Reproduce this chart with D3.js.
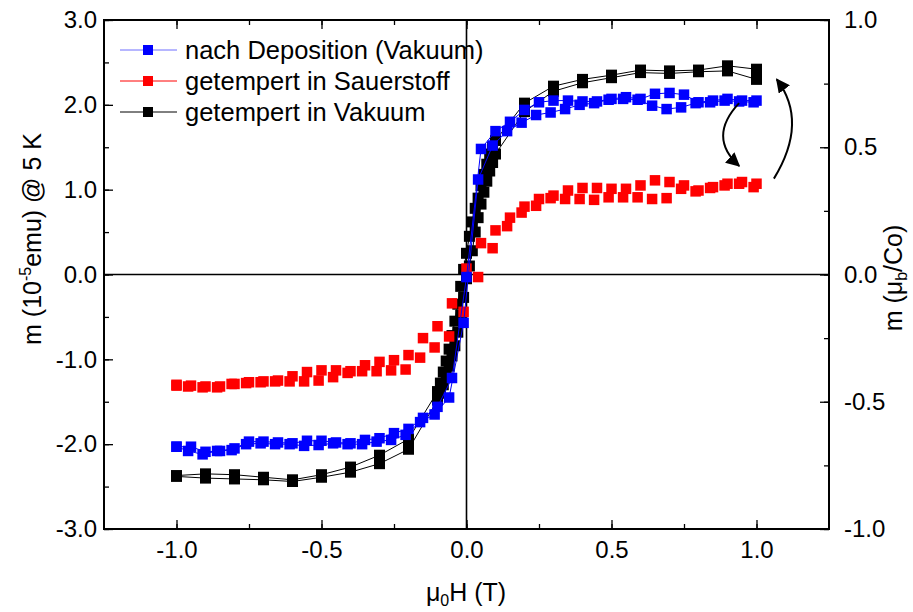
<!DOCTYPE html>
<meta charset="utf-8">
<style>
  body { margin: 0; background: #fff; }
  svg { font-family: "Liberation Sans", Arial, sans-serif; }
  .tick text { font-size: 24px; fill: #000; }
</style>
<svg width="913" height="612"></svg>
<script src="https://d3js.org/d3.v7.min.js"></script>
<script>
// field (T) and moment (1e-5 emu), two branches per sample
var blueDownH = [1.0,0.95,0.9,0.85,0.8,0.75,0.7,0.65,0.6,0.55,0.5,0.45,0.4,0.35,0.3,0.25,0.2,0.15,0.1,0.05,0.0,-0.05,-0.1,-0.15,-0.2,-0.25,-0.3,-0.35,-0.4,-0.45,-0.5,-0.55,-0.6,-0.65,-0.7,-0.75,-0.8,-0.85,-0.9,-0.95,-1.0];
var blueDownM = [2.05,2.05,2.07,2.05,2.03,2.12,2.14,2.13,2.07,2.09,2.07,2.04,2.04,2.05,2.05,2.03,1.94,1.80,1.69,1.48,-0.03,-1.22,-1.56,-1.69,-1.82,-1.87,-1.93,-1.95,-1.99,-1.98,-1.96,-1.96,-1.99,-1.98,-1.97,-1.97,-2.05,-2.08,-2.09,-2.03,-2.03];
var blueUpH = [-1.0,-0.96,-0.91,-0.86,-0.81,-0.76,-0.71,-0.66,-0.61,-0.56,-0.51,-0.46,-0.41,-0.36,-0.31,-0.26,-0.21,-0.16,-0.11,-0.06,-0.01,0.04,0.09,0.14,0.19,0.24,0.29,0.34,0.39,0.44,0.49,0.54,0.59,0.64,0.69,0.74,0.79,0.84,0.89,0.94,0.99];
var blueUpM = [-2.03,-2.08,-2.12,-2.08,-2.07,-2.00,-1.99,-2.00,-2.00,-2.02,-2.01,-1.99,-2.00,-2.00,-1.97,-1.95,-1.89,-1.74,-1.65,-1.45,-0.57,1.12,1.52,1.69,1.79,1.88,1.91,1.95,2.00,2.02,2.06,2.07,2.06,1.99,1.95,1.97,2.02,2.03,2.05,2.04,2.03];

var redDownH = blueDownH;
var redDownM = [1.07,1.09,1.07,1.03,0.99,1.05,1.09,1.11,1.05,1.01,1.01,1.02,1.02,0.99,0.93,0.89,0.80,0.67,0.52,0.37,0.07,-0.34,-0.61,-0.75,-0.95,-1.01,-1.03,-1.07,-1.14,-1.13,-1.13,-1.15,-1.20,-1.25,-1.26,-1.27,-1.29,-1.32,-1.32,-1.31,-1.31];
var redUpH = blueUpH;
var redUpM = [-1.30,-1.32,-1.33,-1.33,-1.29,-1.28,-1.27,-1.26,-1.26,-1.26,-1.25,-1.21,-1.16,-1.14,-1.14,-1.13,-1.12,-0.98,-0.86,-0.73,-0.44,-0.03,0.31,0.57,0.73,0.81,0.90,0.89,0.89,0.88,0.91,0.91,0.91,0.89,0.90,1.01,0.98,1.02,1.05,1.07,1.03];

var blackDownH = [1.0,0.9,0.8,0.7,0.6,0.5,0.4,0.3,0.2,0.1,0.09,0.08,0.07,0.06,0.05,0.04,0.03,0.02,0.01,0.0,-0.01,-0.02,-0.03,-0.04,-0.05,-0.06,-0.07,-0.08,-0.09,-0.1,-0.2,-0.3,-0.4,-0.5,-0.6,-0.7,-0.8,-0.9,-1.0];
var blackDownM = [2.42,2.46,2.41,2.40,2.41,2.35,2.30,2.22,2.02,1.58,1.50,1.42,1.30,1.18,1.05,0.90,0.78,0.62,0.45,0.25,0.06,-0.14,-0.35,-0.55,-0.72,-0.88,-1.02,-1.15,-1.28,-1.38,-1.94,-2.13,-2.27,-2.36,-2.42,-2.39,-2.36,-2.35,-2.37];
var blackUpH = [-1.0,-0.9,-0.8,-0.7,-0.6,-0.5,-0.4,-0.3,-0.2,-0.1,-0.09,-0.08,-0.07,-0.06,-0.05,-0.04,-0.03,-0.02,-0.01,0.0,0.01,0.02,0.03,0.04,0.05,0.06,0.07,0.08,0.09,0.1,0.2,0.3,0.4,0.5,0.6,0.7,0.8,0.9,1.0];
var blackUpM = [-2.38,-2.40,-2.41,-2.42,-2.44,-2.39,-2.33,-2.23,-2.06,-1.48,-1.40,-1.30,-1.20,-1.08,-0.96,-0.84,-0.68,-0.48,-0.27,-0.05,0.10,0.28,0.50,0.67,0.83,0.97,1.10,1.22,1.32,1.42,1.92,2.16,2.26,2.32,2.38,2.37,2.39,2.40,2.30];

var seriesNames = ["nach Deposition (Vakuum)", "getempert in Sauerstoff", "getempert in Vakuum"];
var seriesColors = ["#0000ff", "#ff0000", "#000000"];

var xTicks = [-1.0, -0.5, 0.0, 0.5, 1.0];
var xMinor = [-1.0, -0.75, -0.5, -0.25, 0.0, 0.25, 0.5, 0.75, 1.0];
var yTicks = [-3, -2, -1, 0, 1, 2, 3];
var yMinor = [-3, -2.5, -2, -1.5, -1, -0.5, 0, 0.5, 1, 1.5, 2, 2.5, 3];
var y2Ticks = [-1.0, -0.5, 0.0, 0.5, 1.0];
var y2Minor = [-1.0, -0.75, -0.5, -0.25, 0.0, 0.25, 0.5, 0.75, 1.0];

var svg = d3.select("svg");
var L = 104, R = 829, T = 20, B = 529;

var x = d3.scaleLinear().domain([-1.25, 1.25]).range([L, R]);
var y = d3.scaleLinear().domain([-3, 3]).range([B, T]);
var y2 = d3.scaleLinear().domain([-1, 1]).range([B, T]);

// zero lines
svg.append("line").attr("x1", L).attr("x2", R).attr("y1", y(0)).attr("y2", y(0))
  .attr("stroke", "#000").attr("stroke-width", 1.6);
svg.append("line").attr("x1", x(0)).attr("x2", x(0)).attr("y1", T).attr("y2", B)
  .attr("stroke", "#000").attr("stroke-width", 1.6);

// minor ticks
function minor(gen, vals, tr) {
  var g = svg.append("g").attr("transform", tr)
    .call(gen.tickValues(vals).tickSize(-5).tickFormat(""));
  g.select(".domain").remove();
  g.selectAll("line").attr("stroke-width", 1.3);
}
minor(d3.axisBottom(x), xMinor, "translate(0," + B + ")");
minor(d3.axisTop(x), xMinor, "translate(0," + T + ")");
minor(d3.axisLeft(y), yMinor, "translate(" + L + ",0)");
minor(d3.axisRight(y2), y2Minor, "translate(" + R + ",0)");

var fmt = d3.format(".1f");
var xa = svg.append("g").attr("transform", "translate(0," + B + ")")
  .call(d3.axisBottom(x).tickValues(xTicks).tickSize(-9).tickPadding(12).tickFormat(fmt));
var xt = svg.append("g").attr("transform", "translate(0," + T + ")")
  .call(d3.axisTop(x).tickValues(xTicks).tickSize(-9).tickFormat(""));
var ya = svg.append("g").attr("transform", "translate(" + L + ",0)")
  .call(d3.axisLeft(y).tickValues(yTicks).tickSize(-9).tickPadding(7).tickFormat(fmt));
var yb = svg.append("g").attr("transform", "translate(" + R + ",0)")
  .call(d3.axisRight(y2).tickValues(y2Ticks).tickSize(-9).tickPadding(15).tickFormat(fmt));
[xa, xt, ya, yb].forEach(function(g) {
  g.select(".domain").remove();
  g.selectAll("line").attr("stroke-width", 1.3);
  g.selectAll("text").text(function() { return this.textContent.replace("\u2212", "-"); });
});

// frame
svg.append("rect").attr("x", L).attr("y", T).attr("width", R - L).attr("height", B - T)
  .attr("fill", "none").attr("stroke", "#000").attr("stroke-width", 2);

// data
var line = d3.line().x(function(d) { return x(d[0]); }).y(function(d) { return y(d[1]); });
function branch(H, M) { return H.map(function(h, i) { return [h, M[i]]; }); }
var series = [
  { c: seriesColors[2], w: 11, lw: 1, b: [branch(blackDownH, blackDownM), branch(blackUpH, blackUpM)] },
  { c: seriesColors[1], w: 10.5, lw: 0, b: [branch(redDownH, redDownM), branch(redUpH, redUpM)] },
  { c: seriesColors[0], w: 10.5, lw: 1, b: [branch(blueDownH, blueDownM), branch(blueUpH, blueUpM)] }
];
series.forEach(function(s) {
  if (s.lw > 0) s.b.forEach(function(pts) {
    svg.append("path").datum(pts).attr("d", line).attr("fill", "none")
      .attr("stroke", s.c).attr("stroke-width", s.lw);
  });
  s.b.forEach(function(pts) {
    svg.append("g").selectAll("rect").data(pts).enter().append("rect")
      .attr("x", function(d) { return x(d[0]) - s.w / 2; })
      .attr("y", function(d) { return y(d[1]) - s.w / 2; })
      .attr("width", s.w).attr("height", s.w)
      .attr("fill", s.c);
  });
});

// arrows
var defs = svg.append("defs");
defs.append("marker").attr("id", "ah").attr("viewBox", "0 0 10 10")
  .attr("refX", 9).attr("refY", 5).attr("markerWidth", 14).attr("markerHeight", 14)
  .attr("markerUnits", "userSpaceOnUse").attr("orient", "auto")
  .append("path").attr("d", "M0,0 L10,5 L0,10 z").attr("fill", "#000");
svg.append("path")
  .attr("d", "M" + x(0.94) + "," + y(2.02) + " Q" + x(0.83) + "," + y(1.62) + " " + x(0.94) + "," + y(1.28))
  .attr("fill", "none").attr("stroke", "#000").attr("stroke-width", 2).attr("marker-end", "url(#ah)");
svg.append("path")
  .attr("d", "M" + x(1.06) + "," + y(1.13) + " Q" + x(1.18) + "," + y(1.8) + " " + x(1.07) + "," + y(2.3))
  .attr("fill", "none").attr("stroke", "#000").attr("stroke-width", 2).attr("marker-end", "url(#ah)");

// legend
var leg = svg.append("g").selectAll("g").data(seriesNames).enter().append("g")
  .attr("transform", function(d, i) { return "translate(0," + (50 + i * 31) + ")"; });
leg.append("line").attr("x1", 120).attr("x2", 177).attr("stroke", function(d, i) { return i === 0 ? "#6f6fff" : seriesColors[i]; })
  .attr("stroke-width", 1);
leg.append("rect").attr("x", 143).attr("y", -5).attr("width", 10).attr("height", 10)
  .attr("fill", "#fff");
leg.append("rect").attr("x", 143).attr("y", -5).attr("width", 10).attr("height", 10)
  .attr("fill", function(d, i) { return seriesColors[i]; });
leg.append("text").attr("x", 185).attr("y", 9).attr("font-size", 25.5).text(function(d) { return d; });

// axis titles
svg.append("text").attr("x", 466).attr("y", 601).attr("text-anchor", "middle").attr("font-size", 25)
  .html('\u03bc<tspan font-size="16" dy="5">0</tspan><tspan dy="-5">H (T)</tspan>');
svg.append("text").attr("transform", "translate(41,239) rotate(-90)").attr("text-anchor", "middle").attr("font-size", 25)
  .html('m (10<tspan font-size="16" dy="-10">-5</tspan><tspan dy="10">emu) @ 5 K</tspan>');
svg.append("text").attr("transform", "translate(902,278) rotate(-90)").attr("text-anchor", "middle").attr("font-size", 25)
  .html('m (\u03bc<tspan font-size="16" dy="5">b</tspan><tspan dy="-5">/Co)</tspan>');
</script>
